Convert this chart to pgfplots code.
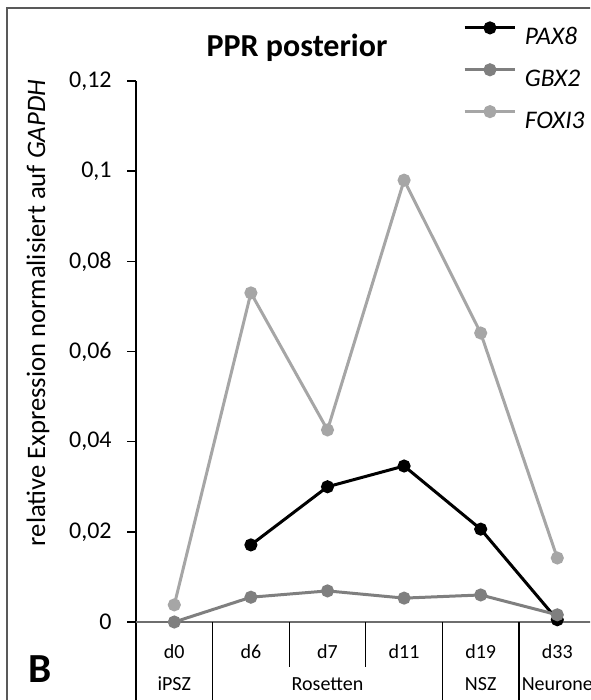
\documentclass[border=0pt]{standalone}
\usepackage{fontspec}
\setmainfont{Carlito}
\usepackage{pgfplots}
\pgfplotsset{compat=1.18}
\definecolor{pax}{HTML}{000000}
\definecolor{gbx}{HTML}{7F7F7F}
\definecolor{fox}{HTML}{A6A6A6}
\definecolor{frame}{HTML}{595959}
\definecolor{xline}{HTML}{6E6E6E}
\begin{document}
\begin{tikzpicture}
\useasboundingbox (0,0) rectangle (442.5pt,-525pt);
\clip (0,0) rectangle (442.5pt,-525pt);
\begin{scope}[x=0.75pt,y=-0.75pt]
  \draw[frame, line width=1.5pt] (7,705) -- (7,8) -- (600,8);
  \draw[black, line width=1.1pt] (136,81) -- (136,705);
  \draw[xline, line width=1.3pt] (136,622) -- (600,622);
  \draw[black, line width=0.8pt] (212.6,622) -- (212.6,705);
  \draw[black, line width=0.8pt] (289.2,622) -- (289.2,667);
  \draw[black, line width=0.8pt] (365.8,622) -- (365.8,667);
  \draw[black, line width=0.8pt] (442.4,622) -- (442.4,705);
  \draw[black, line width=0.8pt] (519.0,622) -- (519.0,705);
  \node[font=\bfseries\fontsize{24}{24}\selectfont] at (297,48) {PPR posterior};
  \node[rotate=90, font=\fontsize{20}{20}\selectfont] at (38,313) {relative Expression normalisiert auf \textit{GAPDH}};
  \node[font=\bfseries\fontsize{31}{31}\selectfont] at (40,669) {B};
  \node[font=\fontsize{15}{15}\selectfont] at (174.3,684) {iPSZ};
  \node[font=\fontsize{15}{15}\selectfont] at (327.5,684) {Rosetten};
  \node[font=\fontsize{15}{15}\selectfont] at (480.7,684) {NSZ};
  \node[font=\fontsize{15}{15}\selectfont] at (557.3,684) {Neurone};
\end{scope}
\begin{axis}[
  scale only axis, width=344.7pt, height=405.75pt,
  at={(102pt,-466.5pt)}, anchor=south west,
  xmin=-0.5, xmax=5.5, ymin=0, ymax=0.12,
  axis line style={draw=none},
  clip=false,
  xtick={0,1,2,3,4,5},
  xticklabels={d0,d6,d7,d11,d19,d33},
  xtick pos=bottom, ytick pos=left,
  x tick style={draw=none},
  xticklabel style={font=\fontsize{15}{15}\selectfont, anchor=center, yshift=-15.75pt},
  ytick={0,0.02,0.04,0.06,0.08,0.1,0.12},
  yticklabels={0,{0,02},{0,04},{0,06},{0,08},{0,1},{0,12}},
  yticklabel style={font=\fontsize{18}{18}\selectfont, xshift=-8pt},
  y tick style={draw=black, line width=1.1pt},
  tick align=outside, major tick length=6.75pt,
  legend cell align=left,
  legend style={at={(axis description cs:0.7115,1.1074)}, anchor=north west,
    draw=none, fill=none, inner sep=0pt, outer sep=0pt,
    font=\fontsize{19}{19}\selectfont\itshape, row sep=15pt,
    nodes={inner sep=0pt, text height=13.1pt, text depth=0pt},
    /tikz/every odd column/.append style={column sep=6pt}},
  legend image code/.code={
    \draw[mark repeat=2,mark phase=2,#1] plot coordinates {(0pt,6.1pt) (19.1pt,6.1pt) (38.2pt,6.1pt)};
  },
  every axis plot/.append style={line width=2.25pt, mark=*, mark size=3.75pt},
]
\addplot[pax, mark options={fill=pax, draw=pax, solid}] coordinates {
  (1,0.0171) (2,0.0300) (3,0.0346) (4,0.0206) (5,0.0005)
};
\addlegendentry{PAX8}
\addplot[gbx, mark options={fill=gbx, draw=gbx, solid}] coordinates {
  (0,0.0000) (1,0.0055) (2,0.0069) (3,0.0053) (4,0.0060) (5,0.0016)
};
\addlegendentry{GBX2}
\addplot[fox, mark options={fill=fox, draw=fox, solid}] coordinates {
  (0,0.0038) (1,0.0730) (2,0.0426) (3,0.0980) (4,0.0641) (5,0.0142)
};
\addlegendentry{FOXI3}
\end{axis}
\end{tikzpicture}
\end{document}
